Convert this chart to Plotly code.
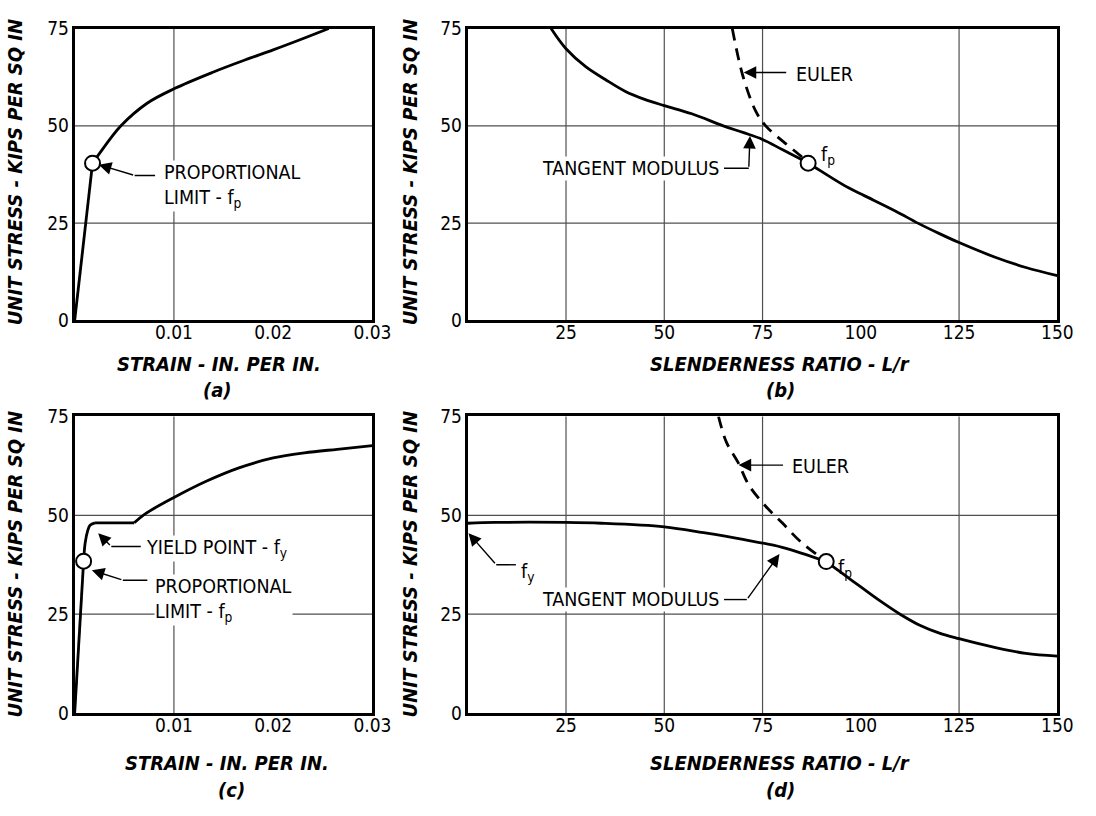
import plotly.graph_objects as go

# ---------------- data ----------------
# (a) stress-strain diagram, material with a gradual yield
a_strain_elastic = [0.0, 0.0018]
a_stress_elastic = [0.0, 40.4]
a_strain_plastic = [0.0018, 0.00236, 0.00466, 0.0073, 0.0100, 0.01386, 0.01715, 0.0200, 0.0227, 0.0256]
a_stress_plastic = [40.4, 42.4, 50.0, 55.8, 59.5, 63.7, 66.9, 69.5, 72.1, 75.0]
a_fp_strain = [0.0018]
a_fp_stress = [40.4]

# (b) column curve for (a)
b_lr_tangent = [21.2, 25, 30, 35, 40, 45, 50, 57, 65, 70, 75, 80, 86.6, 92, 97, 101,
                109, 114.5, 120, 125, 134, 142, 150]
b_stress_tangent = [75.0, 69.8, 65.2, 61.9, 58.9, 56.8, 55.2, 53.1, 50.0, 48.3, 46.5, 43.9, 40.4,
                    37.0, 34.0, 32.0, 28.0, 25.0, 22.3, 20.0, 16.3, 13.6, 11.5]
b_lr_euler = [67.3, 70.0, 73.3, 75.8, 80.8, 85.0, 86.6]
b_stress_euler = [75.0, 62.8, 53.7, 50.0, 45.5, 42.0, 40.4]
b_fp_lr = [86.6]
b_fp_stress = [40.4]

# (c) stress-strain diagram, material with a yield point
c_strain_elastic = [0.0, 0.0009]
c_stress_elastic = [0.0, 38.4]
c_strain_knee = [0.0009, 0.00106, 0.00132, 0.00155, 0.00205]
c_stress_knee = [38.4, 43.1, 46.2, 47.5, 48.1]
c_strain_plateau = [0.00205, 0.0060]
c_stress_plateau = [48.1, 48.1]
c_strain_harden = [0.0060, 0.0070, 0.0100, 0.01325, 0.01655, 0.0200, 0.02315, 0.02645, 0.0300]
c_stress_harden = [48.1, 50.2, 54.5, 58.6, 62.0, 64.5, 65.8, 66.7, 67.6]
c_fp_strain = [0.0009]
c_fp_stress = [38.4]

# (d) column curve for (c)
d_lr_tangent = [0, 7, 25, 34, 50, 60, 70, 80, 91.2]
d_stress_tangent = [48.0, 48.2, 48.2, 48.0, 47.1, 45.6, 43.9, 41.9, 38.3]
d_lr_elastic = [91.2, 96, 100, 105, 110, 115, 120, 125, 134, 142, 150]
d_stress_elastic = [38.3, 34.8, 31.9, 28.3, 25.0, 22.2, 20.2, 18.8, 16.6, 15.1, 14.4]
d_lr_euler = [63.8, 65.8, 68.7, 71.6, 75.8, 80.0, 84.5, 91.2]
d_stress_euler = [75.0, 68.5, 63.5, 57.5, 52.3, 48.1, 43.5, 38.3]
d_fp_lr = [91.2]
d_fp_stress = [38.3]

# axis ticks and grid
strain_ticks = [0.01, 0.02, 0.03]
strain_ticktext = ["0.01", "0.02", "0.03"]
slender_ticks = [25, 50, 75, 100, 125, 150]
slender_ticktext = ["25", "50", "75", "100", "125", "150"]
stress_ticks = [0, 25, 50, 75]
stress_ticktext = ["0", "25", "50", "75"]
strain_grid = [0.01]
slender_grid = [25, 50, 75, 125]
stress_grid = [25, 50]

# ---------------- styling ----------------
BLACK = "#000000"
GRID = "#505050"
NARROW = "DejaVu Sans Condensed, Liberation Sans Narrow, sans-serif"
W, H = 1096, 816

fig = go.Figure()


def ax_id(n):
    return "" if n == 1 else str(n)


def curve(x, y, n, dash="solid", shape="spline"):
    s = ax_id(n)
    fig.add_trace(go.Scatter(
        x=x, y=y, mode="lines", xaxis="x" + s, yaxis="y" + s,
        line=dict(color=BLACK, width=2.8, dash=dash, shape=shape, smoothing=1.0),
        hoverinfo="skip", showlegend=False, cliponaxis=False))


def point(x, y, n):
    s = ax_id(n)
    fig.add_trace(go.Scatter(
        x=x, y=y, mode="markers", xaxis="x" + s, yaxis="y" + s,
        marker=dict(size=15, color="white", line=dict(color=BLACK, width=2)),
        hoverinfo="skip", showlegend=False, cliponaxis=False))


curve(a_strain_elastic, a_stress_elastic, 1, shape="linear")
curve(a_strain_plastic, a_stress_plastic, 1)
point(a_fp_strain, a_fp_stress, 1)

curve(b_lr_tangent, b_stress_tangent, 2)
curve(b_lr_euler, b_stress_euler, 2, dash="12px,8px")
point(b_fp_lr, b_fp_stress, 2)

curve(c_strain_elastic, c_stress_elastic, 3, shape="linear")
curve(c_strain_knee, c_stress_knee, 3)
curve(c_strain_plateau, c_stress_plateau, 3, shape="linear")
curve(c_strain_harden, c_stress_harden, 3)
point(c_fp_strain, c_fp_stress, 3)

curve(d_lr_tangent, d_stress_tangent, 4)
curve(d_lr_elastic, d_stress_elastic, 4)
curve(d_lr_euler, d_stress_euler, 4, dash="12px,8px")
point(d_fp_lr, d_fp_stress, 4)

# ---------------- axes ----------------
left_dom = [76 / W, 379 / W]
right_dom = [476 / W, 1076 / W]
top_dom = [1 - 318 / H, 1 - 18 / H]
bot_dom = [1 - 721.5 / H, 1 - 416.7 / H]

panels = {
    1: (left_dom, top_dom, [0, 0.03], strain_ticks, strain_ticktext),
    2: (right_dom, top_dom, [0, 150], slender_ticks, slender_ticktext),
    3: (left_dom, bot_dom, [0, 0.03], strain_ticks, strain_ticktext),
    4: (right_dom, bot_dom, [0, 150], slender_ticks, slender_ticktext),
}

tickfont = dict(family=NARROW, size=19, color=BLACK)
common = dict(showgrid=False, zeroline=False, showline=True, mirror=True,
              linewidth=3, linecolor=BLACK, ticks="", tickfont=tickfont, fixedrange=True)

layout_axes = {}
for n, (xd, yd, xr, xt, xtt) in panels.items():
    s = ax_id(n)
    layout_axes["xaxis" + s] = dict(domain=xd, range=xr, anchor="y" + s,
                                   tickmode="array", tickvals=xt, ticktext=xtt,
                                   ticklabelstandoff=-7, **common)
    layout_axes["yaxis" + s] = dict(domain=yd, range=[0, 75], anchor="x" + s,
                                   tickmode="array", tickvals=stress_ticks,
                                   ticktext=stress_ticktext, ticklabelstandoff=-1, **common)

# ---------------- grid lines ----------------
shapes = []
grid_line = dict(color=GRID, width=1.2)
for n in panels:
    s = ax_id(n)
    xs = strain_grid if n in (1, 3) else slender_grid
    for v in xs:
        shapes.append(dict(type="line", xref="x" + s, yref="y" + s + " domain",
                           x0=v, x1=v, y0=0, y1=1, line=grid_line, layer="below"))
    for v in stress_grid:
        shapes.append(dict(type="line", xref="x" + s + " domain", yref="y" + s,
                           x0=0, x1=1, y0=v, y1=v, line=grid_line, layer="below"))

# ---------------- labels and leaders ----------------
annotations = []
label_font = dict(family=NARROW, size=19.5, color=BLACK)


def arrow(n, head, tail):
    s = ax_id(n)
    annotations.append(dict(
        x=head[0], y=head[1], ax=tail[0], ay=tail[1],
        xref="x" + s, yref="y" + s, axref="x" + s, ayref="y" + s,
        text="", showarrow=True, arrowhead=2, arrowsize=1.8, arrowwidth=1.4,
        arrowcolor=BLACK, standoff=0, startstandoff=0))


def leader(n, p0, p1):
    s = ax_id(n)
    shapes.append(dict(type="line", xref="x" + s, yref="y" + s,
                       x0=p0[0], y0=p0[1], x1=p1[0], y1=p1[1],
                       line=dict(color=BLACK, width=1.4), layer="above"))


def label(n, x, y, text, xanchor="left", yanchor="middle", bg=True):
    s = ax_id(n)
    annotations.append(dict(
        x=x, y=y, xref="x" + s, yref="y" + s, text=text, showarrow=False,
        xanchor=xanchor, yanchor=yanchor, align="left", font=label_font,
        bgcolor="white" if bg else "rgba(0,0,0,0)", borderpad=0))


# (a)
arrow(1, (0.00243, 40.0), (0.00604, 37.25))
leader(1, (0.00604, 37.25), (0.0081, 37.25))
label(1, 0.00888, 34.5, "PROPORTIONAL<br>LIMIT - f<sub>p</sub>")

# (b)
arrow(2, (70.2, 63.7), (81.4, 63.7))
label(2, 83.2, 63.3, "EULER", bg=False)
arrow(2, (71.8, 47.4), (71.5, 39.1))
leader(2, (65.2, 39.1), (71.5, 39.1))
label(2, 64.2, 39.1, "TANGENT MODULUS", xanchor="right")
label(2, 89.7, 42.5, "f<sub>p</sub>", bg=False)

# (c)
arrow(3, (0.00237, 45.5), (0.00369, 42.1))
leader(3, (0.00369, 42.1), (0.00666, 42.1))
label(3, 0.00709, 41.7, "YIELD POINT - f<sub>y</sub>")
arrow(3, (0.00173, 36.1), (0.00485, 33.6))
leader(3, (0.00485, 33.6), (0.00732, 33.6))
label(3, 0.00798, 28.7, "PROPORTIONAL<br>LIMIT - f<sub>p</sub>")

# (d)
arrow(4, (68.9, 62.7), (80.6, 62.7))
label(4, 82.2, 62.3, "EULER", bg=False)
arrow(4, (79.3, 40.2), (71.0, 28.7))
leader(4, (65.2, 28.7), (71.0, 28.7))
label(4, 64.2, 28.7, "TANGENT MODULUS", xanchor="right")
label(4, 94.0, 36.5, "f<sub>p</sub>", bg=False)
arrow(4, (0.2, 45.5), (7.25, 37.5))
leader(4, (7.25, 37.5), (12.25, 37.5))
label(4, 13.4, 35.6, "f<sub>y</sub>", bg=False)

# axis titles and panel letters
title_font = dict(family=NARROW, size=20, color=BLACK)


def paper_text(px, py, text, angle=0):
    annotations.append(dict(
        x=px / W, y=1 - py / H, xref="paper", yref="paper", text="<b><i>" + text + "</i></b>",
        showarrow=False, xanchor="center", yanchor="middle", textangle=angle,
        font=title_font))


paper_text(223, 363, "STRAIN - IN. PER IN.")
paper_text(221, 389, "(a)")
paper_text(794, 363, "SLENDERNESS RATIO - L/r")
paper_text(794, 389, "(b)")
paper_text(231, 773, "STRAIN - IN. PER IN.")
paper_text(236, 801, "(c)")
paper_text(794, 773, "SLENDERNESS RATIO - L/r")
paper_text(794, 801, "(d)")
for ycen in (166, 569):
    paper_text(15, ycen, "UNIT STRESS - KIPS PER SQ IN", angle=-90)
    paper_text(417, ycen, "UNIT STRESS - KIPS PER SQ IN", angle=-90)

fig.update_layout(
    width=W, height=H, margin=dict(l=0, r=0, t=0, b=0),
    paper_bgcolor="white", plot_bgcolor="white",
    showlegend=False, shapes=shapes, annotations=annotations,
    **layout_axes)

fig.write_html("out.html", config={"displayModeBar": False})
